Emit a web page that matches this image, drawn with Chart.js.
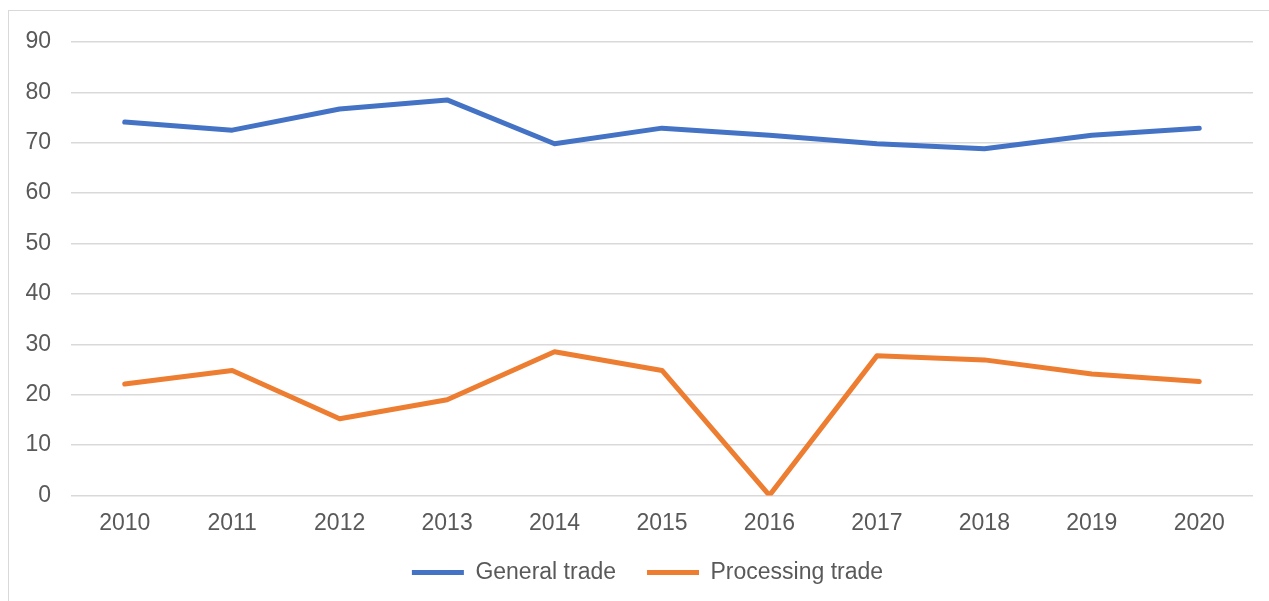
<!DOCTYPE html>
<html>
<head>
<meta charset="utf-8">
<script src="https://cdn.jsdelivr.net/npm/chart.js@4/dist/chart.umd.min.js"></script>
<style>
  html, body { margin: 0; padding: 0; background: #fff; overflow: hidden; }
  #wrap { position: absolute; left: 0; top: 0; width: 1269px; height: 601px; overflow: hidden; }
  #frame { position: absolute; left: 8px; top: 10px; width: 1300px; height: 620px; border: 1.5px solid #d9d9d9; }
  #chart { position: absolute; left: 0; top: 0; }
</style>
</head>
<body>
<div id="wrap">
  <div id="frame"></div>
  <canvas id="chart" width="1269" height="594"></canvas>
</div>
<script>
const years = ['2010','2011','2012','2013','2014','2015','2016','2017','2018','2019','2020']
const generalTrade = [74.1, 72.5, 76.7, 78.5, 69.8, 72.9, 71.5, 69.8, 68.8, 71.5, 72.9]
const processingTrade = [22.1, 24.8, 15.2, 19.0, 28.5, 24.8, 0, 27.7, 26.9, 24.1, 22.6]

const textColor = '#595959'
const gridColor = '#d9d9d9'
const font = { family: 'Liberation Sans', size: 23 }

// legend sits a bit right of the canvas centre in the original
const legendShift = {
  id: 'legendShift',
  afterLayout(chart) {
    chart.legend.left += 21
    chart.legend.right += 21
  }
}

new Chart(document.getElementById('chart'), {
  type: 'line',
  data: {
    labels: years,
    datasets: [
      { label: 'General trade', data: generalTrade, borderColor: '#4472c4', backgroundColor: '#4472c4',
        borderWidth: 5, pointRadius: 0, tension: 0, borderCapStyle: 'round', borderJoinStyle: 'round' },
      { label: 'Processing trade', data: processingTrade, borderColor: '#ed7d31', backgroundColor: '#ed7d31',
        borderWidth: 5, pointRadius: 0, tension: 0, borderCapStyle: 'round', borderJoinStyle: 'round' }
    ]
  },
  options: {
    responsive: false,
    animation: false,
    layout: { padding: { left: 0, right: 16, top: 42, bottom: 0 } },
    plugins: {
      legend: {
        position: 'bottom',
        labels: {
          color: textColor,
          font: font,
          usePointStyle: true,
          pointStyle: 'line',
          pointStyleWidth: 52,
          padding: 31
        }
      },
      tooltip: { enabled: false }
    },
    scales: {
      x: {
        offset: true,
        afterFit: (s) => { s.height = s.height - 13 },
        grid: { display: false },
        border: { display: false },
        ticks: { color: textColor, font: font, padding: 6 }
      },
      y: {
        min: 0, max: 90,
        afterFit: (s) => { s.width = 71 },
        grid: { color: gridColor, lineWidth: 1.5, drawTicks: false },
        border: { display: false },
        ticks: { stepSize: 10, color: textColor, font: font, padding: 20 }
      }
    }
  },
  plugins: [legendShift]
})
</script>
</body>
</html>
